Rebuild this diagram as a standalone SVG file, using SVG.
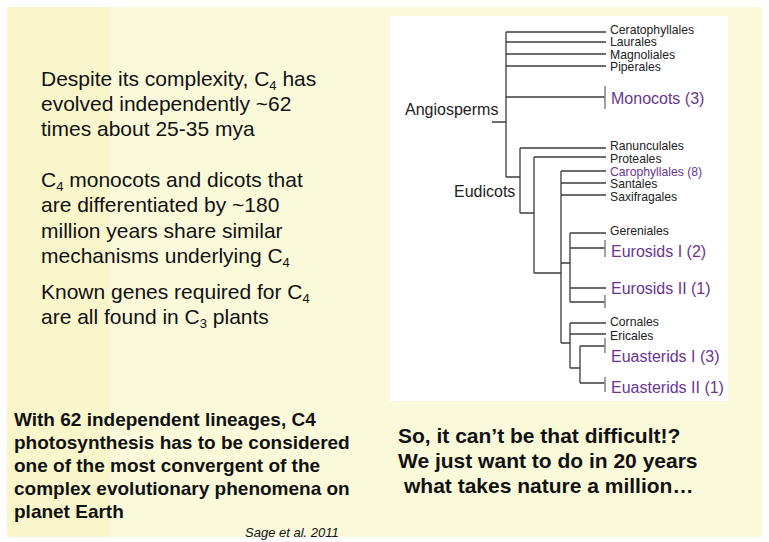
<svg xmlns="http://www.w3.org/2000/svg" width="769" height="542" viewBox="0 0 769 542">
<style>
.body{font-family:"Liberation Sans",Arial,sans-serif;font-size:21px;fill:#111}
.bold{font-family:"Liberation Sans",Arial,sans-serif;font-size:19px;font-weight:bold;fill:#111}
.bold2{font-family:"Liberation Sans",Arial,sans-serif;font-size:21px;font-weight:bold;fill:#111}
.sm{font-family:"Liberation Sans",Arial,sans-serif;font-size:12.2px;fill:#222}
.pu{font-family:"Liberation Sans",Arial,sans-serif;font-size:16px;fill:#6a3592}
.pus{font-family:"Liberation Sans",Arial,sans-serif;font-size:12.2px;fill:#6a3592}
.grp{font-family:"Liberation Sans",Arial,sans-serif;font-size:16px;fill:#222}
.cite{font-family:"Liberation Sans",Arial,sans-serif;font-size:13px;font-style:italic;fill:#111}
.sub{font-size:13px}
.ln{stroke:#3c3c3c;stroke-width:1.3;fill:none}
.tk{stroke:#8a8a8a;stroke-width:1.6;fill:none}
</style>
<rect x="0" y="0" width="769" height="542" fill="#ffffff"/>
<rect x="7" y="7" width="755" height="530" fill="#faf9da"/>
<rect x="7" y="7" width="103" height="530" fill="#f9f6cc"/>
<rect x="390" y="16" width="338" height="385" fill="#ffffff"/>

<g id="left-text">
<text class="body" x="41" y="86">Despite its complexity, C<tspan class="sub" dy="4">4</tspan><tspan dy="-4"> has</tspan></text>
<text class="body" x="41" y="111">evolved independently ~62</text>
<text class="body" x="41" y="136">times about 25-35 mya</text>
<text class="body" x="41" y="187">C<tspan class="sub" dy="4">4</tspan><tspan dy="-4"> monocots and dicots that</tspan></text>
<text class="body" x="41" y="212">are differentiated by ~180</text>
<text class="body" x="41" y="238">million years share similar</text>
<text class="body" x="41" y="263">mechanisms underlying C<tspan class="sub" dy="4">4</tspan></text>
<text class="body" x="41" y="299">Known genes required for C<tspan class="sub" dy="4">4</tspan></text>
<text class="body" x="41" y="324">are all found in C<tspan class="sub" dy="4">3</tspan><tspan dy="-4"> plants</tspan></text>
</g>

<g id="quote">
<text class="bold" x="14" y="426">With 62 independent lineages, C4</text>
<text class="bold" x="14" y="449">photosynthesis has to be considered</text>
<text class="bold" x="14" y="472">one of the most convergent of the</text>
<text class="bold" x="14" y="495">complex evolutionary phenomena on</text>
<text class="bold" x="14" y="518">planet Earth</text>
<text class="cite" x="245" y="537">Sage et al. 2011</text>
</g>

<g id="conclusion">
<text class="bold2" x="398" y="443">So, it can’t be that difficult!?</text>
<text class="bold2" x="398" y="468">We just want to do in 20 years</text>
<text class="bold2" x="404" y="493">what takes nature a million…</text>
</g>

<g id="connectors">
<path class="ln" d="M506,32V177M506,32H606M506,42H606M506,54H606M506,66H606M506,97H605M492,122H506"/>
<path class="ln" d="M506,177H520M520,148V213M520,148H606M520,213H534M534,157V273M534,157H606M534,273H561"/>
<path class="ln" d="M561,171V343M561,171H606M561,183H606M561,195H606"/>
<path class="ln" d="M561,263H570M570,233V302M570,233H606M570,248H605M570,288H606M570,302H605"/>
<path class="ln" d="M561,343H570M570,323V368M570,323H606M570,334H606M570,368H580M580,346V383M580,346H605M580,383H605"/>
<path class="tk" d="M605,86V109M605,240V257M605,295V308M605,338V353M605,377V392"/>
</g>

<g id="n-angiosperms"><text class="grp" x="405" y="115">Angiosperms</text></g>
<g id="n-eudicots"><text class="grp" x="454" y="197">Eudicots</text></g>
<g id="n-ceratophyllales"><text class="sm" x="610" y="33.5">Ceratophyllales</text></g>
<g id="n-laurales"><text class="sm" x="610" y="46">Laurales</text></g>
<g id="n-magnoliales"><text class="sm" x="610" y="58.5">Magnoliales</text></g>
<g id="n-piperales"><text class="sm" x="610" y="71">Piperales</text></g>
<g id="n-monocots"><text class="pu" x="611" y="104">Monocots (3)</text></g>
<g id="n-ranunculales"><text class="sm" x="610" y="150">Ranunculales</text></g>
<g id="n-proteales"><text class="sm" x="610" y="163">Proteales</text></g>
<g id="n-carophyllales"><text class="pus" x="610" y="175.5">Carophyllales (8)</text></g>
<g id="n-santales"><text class="sm" x="610" y="188">Santales</text></g>
<g id="n-saxifragales"><text class="sm" x="610" y="200.5">Saxifragales</text></g>
<g id="n-gereniales"><text class="sm" x="610" y="234.5">Gereniales</text></g>
<g id="n-eurosids1"><text class="pu" x="611" y="256.5">Eurosids I (2)</text></g>
<g id="n-eurosids2"><text class="pu" x="611" y="293.5">Eurosids II (1)</text></g>
<g id="n-cornales"><text class="sm" x="610" y="326">Cornales</text></g>
<g id="n-ericales"><text class="sm" x="610" y="340">Ericales</text></g>
<g id="n-euasterids1"><text class="pu" x="611" y="361.5">Euasterids I (3)</text></g>
<g id="n-euasterids2"><text class="pu" x="611" y="392.5">Euasterids II (1)</text></g>
</svg>
